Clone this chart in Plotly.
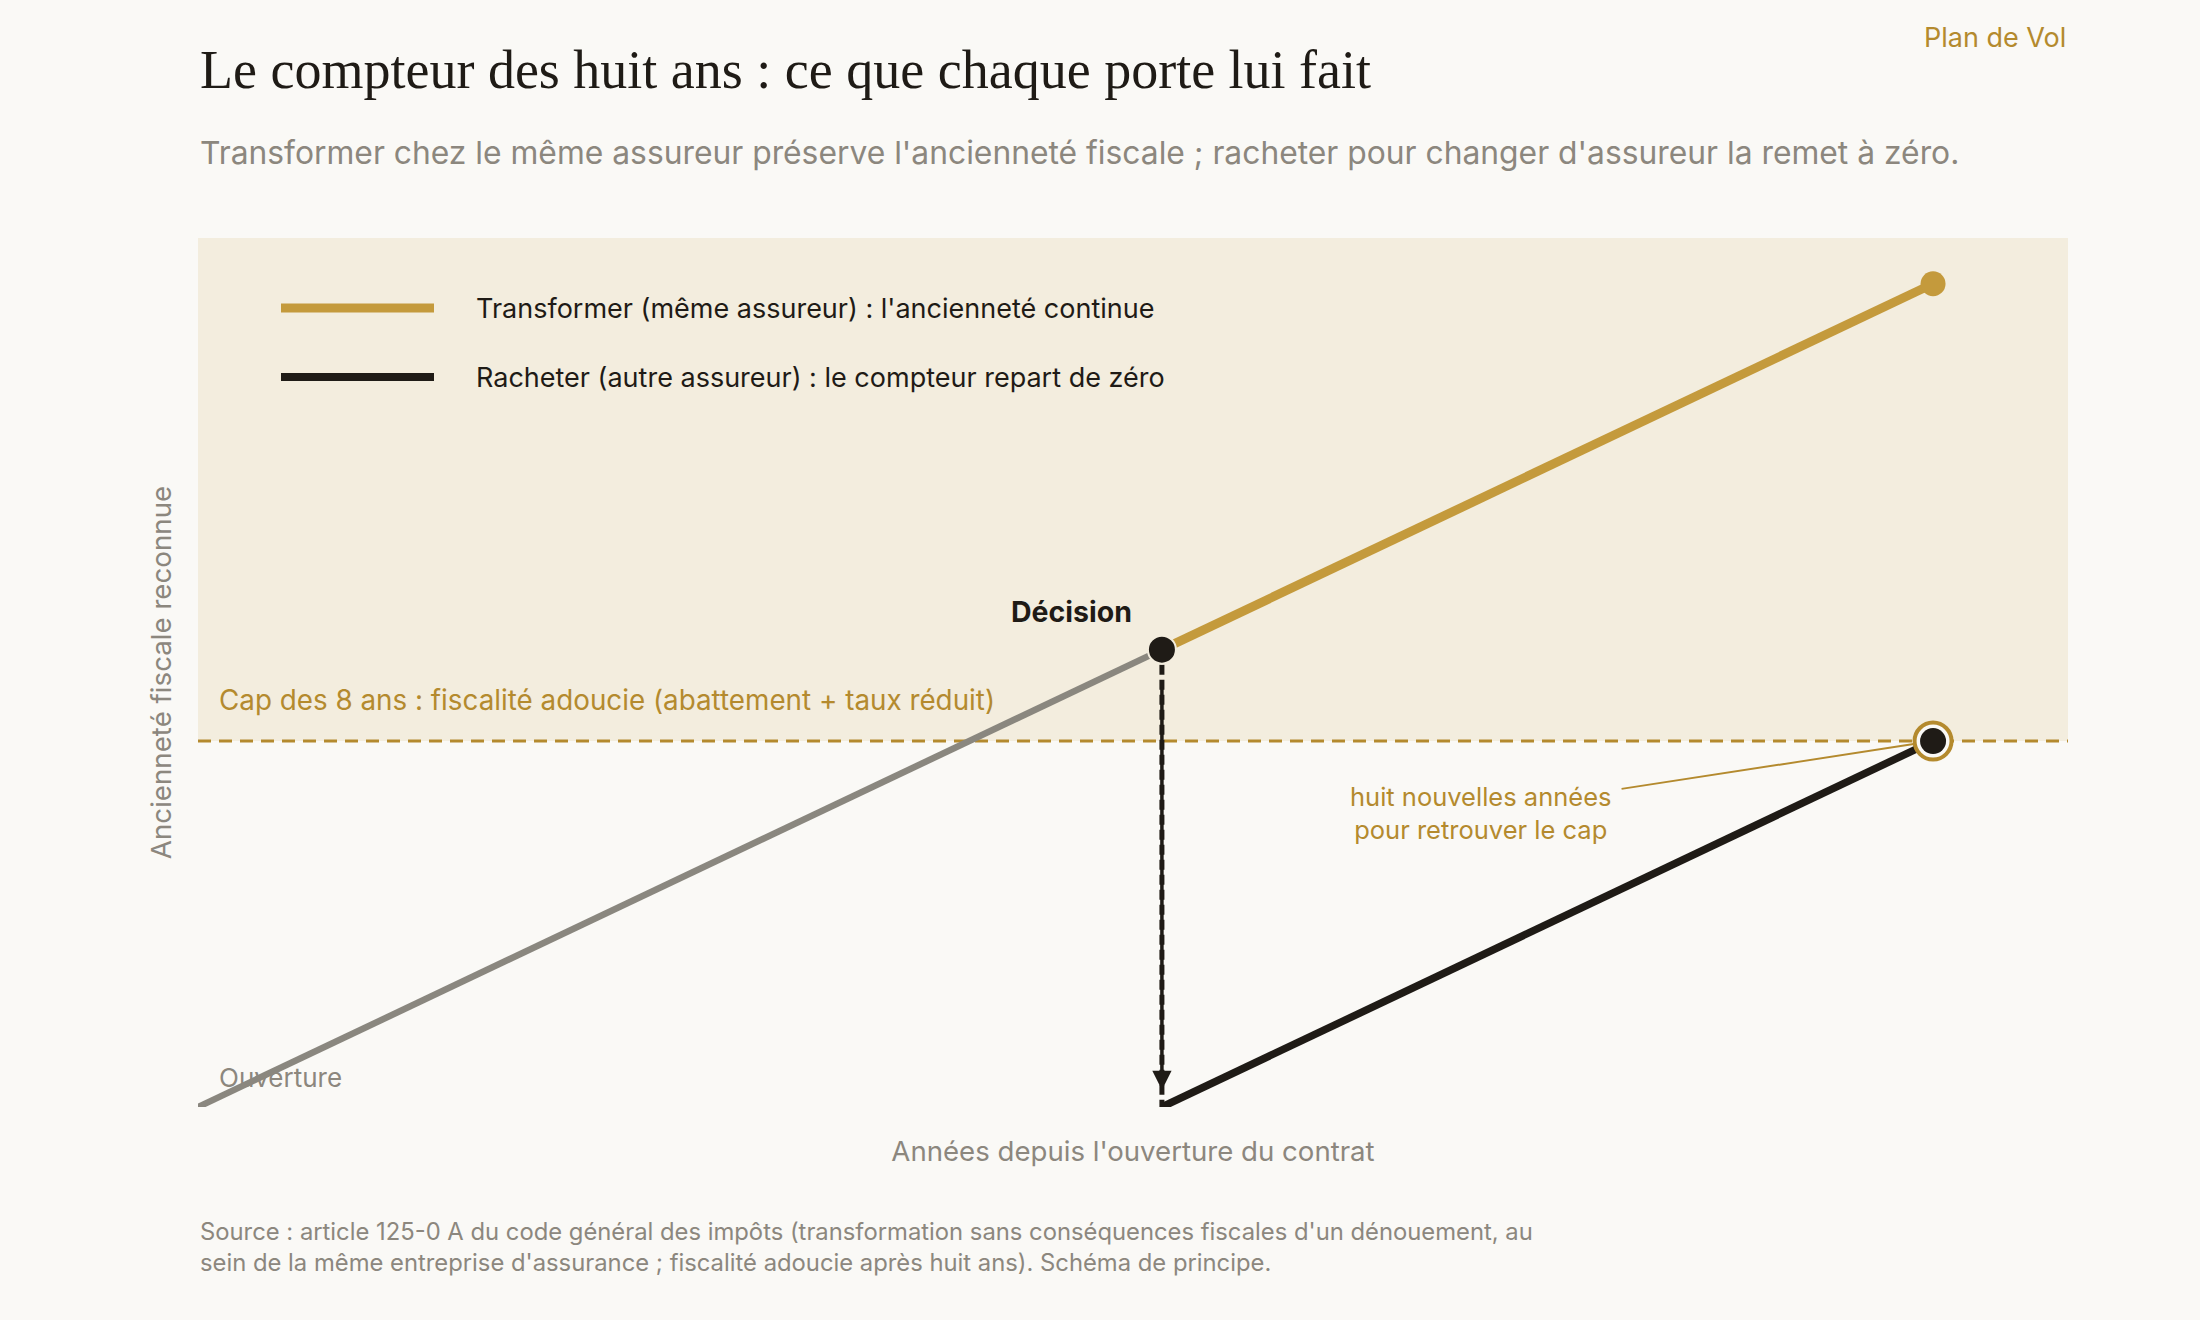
import plotly.graph_objects as go

# ---- data (years) ----
open_x = [0, 10]
open_y = [0, 10]
transform_x = [10, 18]
transform_y = [10, 18]
rachat_x = [10, 18]
rachat_y = [0, 8]
drop_x = [10, 10]
drop_y = [10, 0]
decision_x = [10]
decision_y = [10]
end_transform_x = [18]
end_transform_y = [18]
end_rachat_x = [18]
end_rachat_y = [8]
cap_years = 8
x_range = [0, 19.4]
y_range = [0, 19]

BG = "#FAF9F6"
SHADE = "#F3EDDE"
GOLD = "#C49A3C"
GOLD_TXT = "#B48A2E"
GRAY = "#8A877F"
GRAY_TXT = "#8C877E"
INK = "#1F1B16"
SANS = "Inter, 'Noto Sans', sans-serif"

W, H = 2200, 1320
L, R, T, B = 198, 132, 238, 213
PW, PH = W - L - R, H - T - B


def px(x):
    return (x - L) / PW


def py(y):
    return (H - B - y) / PH


fig = go.Figure()

fig.add_shape(type="rect", xref="x domain", yref="y", x0=0, x1=1, y0=cap_years, y1=y_range[1],
              fillcolor=SHADE, line_width=0, layer="below")
fig.add_shape(type="line", xref="x domain", yref="y", x0=0, x1=1, y0=cap_years, y1=cap_years,
              line=dict(color=GOLD_TXT, width=3, dash="13px,8px"), layer="below")

fig.add_trace(go.Scatter(x=open_x, y=open_y, mode="lines", line=dict(color=GRAY, width=6.5),
                         hoverinfo="skip", showlegend=False))
fig.add_trace(go.Scatter(x=transform_x, y=transform_y, mode="lines", line=dict(color=GOLD, width=9),
                         hoverinfo="skip", showlegend=False))
fig.add_trace(go.Scatter(x=rachat_x, y=rachat_y, mode="lines", line=dict(color=INK, width=7.5),
                         hoverinfo="skip", showlegend=False))
fig.add_trace(go.Scatter(x=drop_x, y=drop_y, mode="lines", line=dict(color=INK, width=5, dash="10px,5px"),
                         hoverinfo="skip", showlegend=False))
fig.add_trace(go.Scatter(x=end_transform_x, y=end_transform_y, mode="markers",
                         marker=dict(color=GOLD, size=25), hoverinfo="skip", showlegend=False))
fig.add_trace(go.Scatter(x=end_rachat_x, y=end_rachat_y, mode="markers",
                         marker=dict(color=BG, size=37, line=dict(color=GOLD_TXT, width=4)),
                         hoverinfo="skip", showlegend=False))
fig.add_trace(go.Scatter(x=end_rachat_x, y=end_rachat_y, mode="markers",
                         marker=dict(color=INK, size=26), hoverinfo="skip", showlegend=False))
fig.add_trace(go.Scatter(x=decision_x, y=decision_y, mode="markers",
                         marker=dict(color=INK, size=28, line=dict(color=SHADE, width=2)),
                         hoverinfo="skip", showlegend=False))

# arrow along the drop
fig.add_annotation(x=10, y=0.37, ax=10, ay=9.2, xref="x", yref="y", axref="x", ayref="y",
                   showarrow=True, arrowhead=2, arrowsize=1.1, arrowwidth=3.5, arrowcolor=INK, text="")

# manual legend
for yy, col, lw, label in [(308, GOLD, 9, "Transformer (même assureur) : l'ancienneté continue"),
                           (377, INK, 8, "Racheter (autre assureur) : le compteur repart de zéro")]:
    fig.add_shape(type="line", xref="paper", yref="paper", x0=px(281), x1=px(434), y0=py(yy), y1=py(yy),
                  line=dict(color=col, width=lw))
    fig.add_annotation(xref="paper", yref="paper", x=px(474), y=py(yy), text=label, showarrow=False,
                       xanchor="left", yanchor="middle", font=dict(family=SANS, size=27, color=INK))

# labels
fig.add_annotation(xref="paper", yref="paper", x=px(217), y=py(700),
                   text="Cap des 8 ans : fiscalité adoucie (abattement + taux réduit)", showarrow=False,
                   xanchor="left", yanchor="middle", font=dict(family=SANS, size=27.8, color=GOLD_TXT))
fig.add_annotation(xref="paper", yref="paper", x=px(1071), y=py(611), text="<b>Décision</b>", showarrow=False,
                   xanchor="center", yanchor="middle", font=dict(family=SANS, size=28.5, color=INK))
fig.add_annotation(xref="paper", yref="paper", x=px(217), y=py(1077), text="Ouverture", showarrow=False,
                   xanchor="left", yanchor="middle", font=dict(family=SANS, size=26, color=GRAY_TXT))
fig.add_annotation(x=18, y=8, xref="x", yref="y", ax=-313, ay=48,
                   text="", showarrow=True, arrowhead=0, arrowwidth=2, arrowcolor=GOLD_TXT, standoff=18)
fig.add_annotation(xref="paper", yref="paper", x=px(1480), y=py(813),
                   text="huit nouvelles années<br>pour retrouver le cap", showarrow=False,
                   xanchor="center", yanchor="middle", align="center",
                   font=dict(family=SANS, size=25.5, color=GOLD_TXT))

# titles
fig.add_annotation(xref="paper", yref="paper", x=px(198), y=py(70),
                   text="Le compteur des huit ans : ce que chaque porte lui fait", showarrow=False,
                   xanchor="left", yanchor="middle",
                   font=dict(family="'Liberation Serif', 'DejaVu Serif', serif", size=54, color=INK))
fig.add_annotation(xref="paper", yref="paper", x=px(198), y=py(153),
                   text="Transformer chez le même assureur préserve l'ancienneté fiscale ; racheter pour changer d'assureur la remet à zéro.",
                   showarrow=False, xanchor="left", yanchor="middle",
                   font=dict(family=SANS, size=31.8, color=GRAY_TXT))
fig.add_annotation(xref="paper", yref="paper", x=px(2068), y=py(37), text="Plan de Vol", showarrow=False,
                   xanchor="right", yanchor="middle", font=dict(family=SANS, size=27, color=GOLD_TXT))
fig.add_annotation(xref="paper", yref="paper", x=px(198), y=py(1247),
                   text="Source : article 125-0 A du code général des impôts (transformation sans conséquences fiscales d'un dénouement, au<br>sein de la même entreprise d'assurance ; fiscalité adoucie après huit ans). Schéma de principe.",
                   showarrow=False, xanchor="left", yanchor="middle", align="left",
                   font=dict(family=SANS, size=23.8, color=GRAY_TXT))

fig.update_layout(
    width=W, height=H, margin=dict(l=L, r=R, t=T, b=B),
    paper_bgcolor=BG, plot_bgcolor=BG, showlegend=False,
    xaxis=dict(range=x_range, showgrid=False, zeroline=False, showticklabels=False, ticks="",
               showline=False, fixedrange=True,
               title=dict(text="Années depuis l'ouverture du contrat", standoff=34,
                          font=dict(family=SANS, size=27.6, color=GRAY_TXT))),
    yaxis=dict(range=y_range, showgrid=False, zeroline=False, showticklabels=False, ticks="",
               showline=False, fixedrange=True,
               title=dict(text="Ancienneté fiscale reconnue", standoff=17,
                          font=dict(family=SANS, size=27.7, color=GRAY_TXT))),
)

fig.write_html("out.html", config={"displayModeBar": False},
               post_script="document.body.style.margin='0';document.body.style.background='#FAF9F6';")
